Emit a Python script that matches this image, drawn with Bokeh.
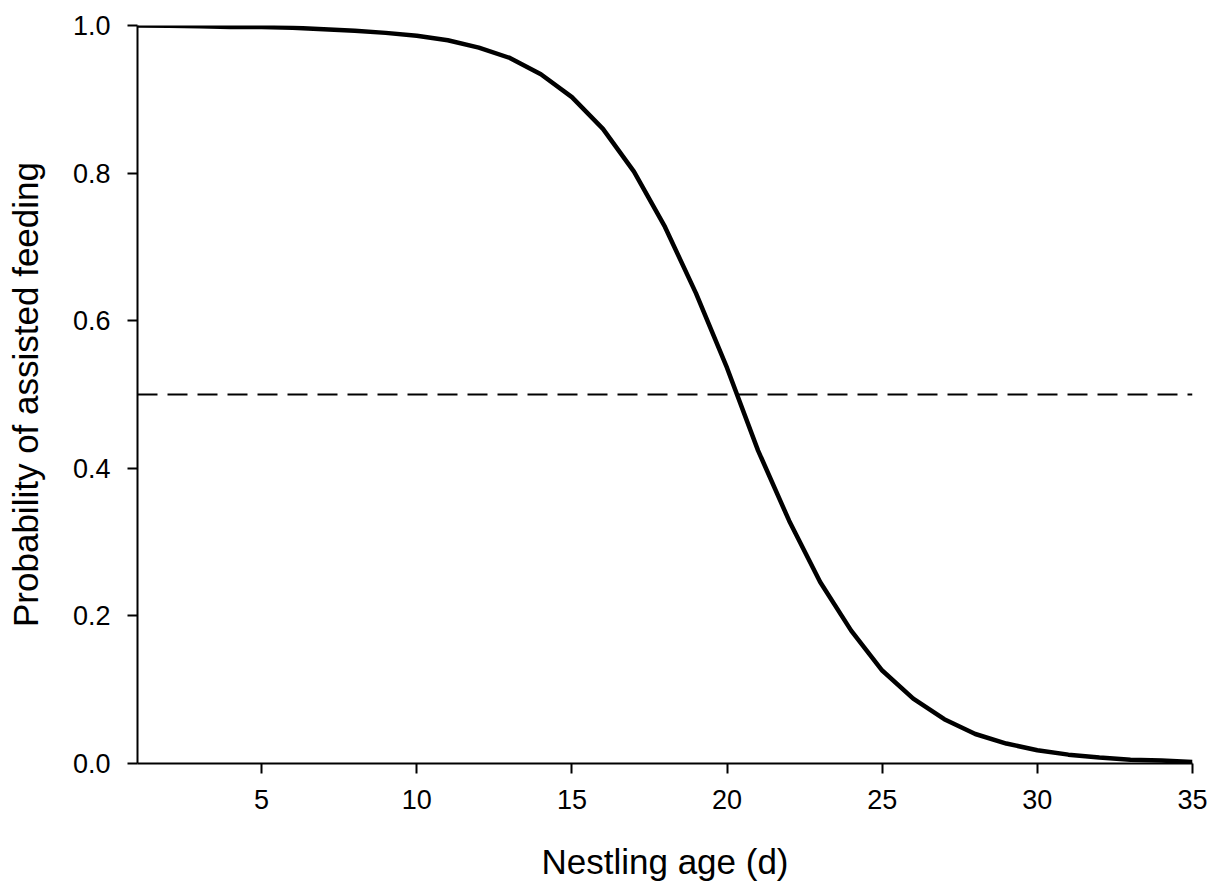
from bokeh.plotting import figure
from bokeh.models import Span, FixedTicker, PrintfTickFormatter, Range1d
from bokeh.embed import file_html
from bokeh.resources import INLINE

# Data
nestling_age = list(range(1, 36))
prob_assisted = [1.000, 0.9995, 0.999, 0.998, 0.998, 0.997, 0.995, 0.993, 0.990, 0.986,
                 0.980, 0.970, 0.956, 0.934, 0.903, 0.860, 0.802, 0.727, 0.637, 0.536,
                 0.424, 0.329, 0.246, 0.180, 0.126, 0.088, 0.060, 0.040, 0.027, 0.018,
                 0.012, 0.008, 0.005, 0.004, 0.002]
threshold = 0.5
x_ticks = [5, 10, 15, 20, 25, 30, 35]
y_ticks = [0.0, 0.2, 0.4, 0.6, 0.8, 1.0]
x_title = "Nestling age (d)"
y_title = "Probability of assisted feeding"

p = figure(width=1216, height=883, output_backend="svg", toolbar_location=None,
           x_range=Range1d(1, 35), y_range=Range1d(0, 1),
           min_border_left=137, min_border_right=24, min_border_top=25, min_border_bottom=120)

p.background_fill_color = "white"
p.border_fill_color = "white"
p.outline_line_color = None
p.grid.visible = False

p.line(nestling_age, prob_assisted, line_color="black", line_width=4.5)
p.add_layout(Span(location=threshold, dimension="width", line_color="black",
                  line_width=2, line_dash="20 10"))

font = "Liberation Sans"
for ax in (p.xaxis[0], p.yaxis[0]):
    ax.axis_line_color = "black"
    ax.axis_line_width = 2
    ax.major_tick_line_color = "black"
    ax.major_tick_line_width = 2
    ax.major_tick_out = 10
    ax.major_tick_in = 0
    ax.minor_tick_line_color = None
    ax.major_label_text_font = font
    ax.major_label_text_font_size = "27px"
    ax.major_label_text_color = "black"
    ax.axis_label_text_font = font
    ax.axis_label_text_font_size = "35px"
    ax.axis_label_text_font_style = "normal"
    ax.axis_label_text_color = "black"

p.xaxis.ticker = FixedTicker(ticks=x_ticks)
p.yaxis.ticker = FixedTicker(ticks=y_ticks)
p.yaxis.formatter = PrintfTickFormatter(format="%.1f")
p.xaxis.axis_label = x_title
p.yaxis.axis_label = y_title
p.xaxis.major_label_standoff = 16
p.yaxis.major_label_standoff = 17
p.xaxis.axis_label_standoff = 30
p.yaxis.axis_label_standoff = 25

open("out.html", "w").write(file_html(p, INLINE))
